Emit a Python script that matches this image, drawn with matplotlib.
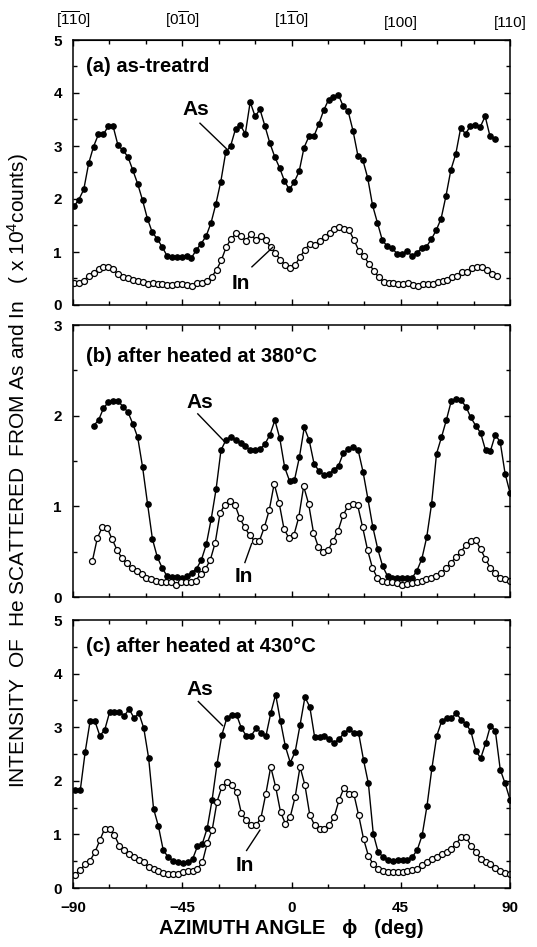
import numpy as np
import matplotlib
matplotlib.use("Agg")
import matplotlib.pyplot as plt
from matplotlib.ticker import MultipleLocator

plt.rcParams['font.family'] = ['Liberation Sans', 'DejaVu Sans']
plt.rcParams['mathtext.fontset'] = 'custom'
plt.rcParams['mathtext.rm'] = 'Liberation Sans'
plt.rcParams['mathtext.it'] = 'Liberation Sans'

# (a) as-treated : scan from about -90 to 84 deg
a_as_range = (-89.6, 83.8)
a_as = [1.86, 1.99, 2.18, 2.67, 2.99, 3.22, 3.22, 3.37, 3.37, 3.01,
        2.92, 2.80, 2.55, 2.29, 1.98, 1.63, 1.37, 1.25, 1.10, 0.93,
        0.91, 0.91, 0.91, 0.93, 0.89, 1.04, 1.16, 1.30, 1.55, 1.91,
        2.33, 2.88, 3.00, 3.32, 3.39, 3.23, 3.83, 3.56, 3.69, 3.38,
        3.06, 2.80, 2.59, 2.34, 2.18, 2.32, 2.52, 2.97, 3.18, 3.18,
        3.41, 3.67, 3.87, 3.93, 3.97, 3.75, 3.66, 3.29, 2.82, 2.74,
        2.40, 1.88, 1.55, 1.22, 1.11, 1.07, 0.97, 0.96, 1.02, 0.93,
        0.98, 1.07, 1.10, 1.24, 1.41, 1.63, 2.06, 2.55, 2.85, 3.34,
        3.23, 3.38, 3.39, 3.36, 3.56, 3.18, 3.14]
a_in_range = (-89.6, 84.5)
a_in = [0.41, 0.41, 0.46, 0.55, 0.61, 0.67, 0.71, 0.71, 0.67, 0.58,
        0.53, 0.50, 0.47, 0.46, 0.44, 0.40, 0.41, 0.40, 0.39, 0.38,
        0.38, 0.40, 0.40, 0.38, 0.36, 0.42, 0.42, 0.46, 0.53, 0.66,
        0.85, 1.10, 1.25, 1.35, 1.30, 1.21, 1.34, 1.22, 1.30, 1.22,
        1.09, 0.98, 0.85, 0.75, 0.69, 0.75, 0.91, 1.04, 1.16, 1.13,
        1.21, 1.29, 1.36, 1.44, 1.47, 1.44, 1.41, 1.22, 1.02, 0.92,
        0.78, 0.65, 0.52, 0.44, 0.42, 0.42, 0.40, 0.40, 0.42, 0.38,
        0.36, 0.40, 0.40, 0.40, 0.44, 0.46, 0.48, 0.52, 0.55, 0.63,
        0.63, 0.69, 0.71, 0.71, 0.66, 0.58, 0.55]

# (b) after heated at 380 C
b_as_range = (-81.5, 90.0)
b_as = [1.89, 1.95, 2.08, 2.15, 2.16, 2.16, 2.10, 2.04, 1.91, 1.76,
        1.43, 1.03, 0.64, 0.44, 0.32, 0.23, 0.22, 0.22, 0.21, 0.23,
        0.27, 0.31, 0.41, 0.58, 0.86, 1.19, 1.62, 1.73, 1.77, 1.73,
        1.70, 1.66, 1.62, 1.62, 1.63, 1.69, 1.79, 1.95, 1.75, 1.43,
        1.28, 1.29, 1.54, 1.87, 1.73, 1.47, 1.39, 1.35, 1.36, 1.40,
        1.45, 1.59, 1.63, 1.65, 1.62, 1.38, 1.08, 0.77, 0.53, 0.34,
        0.23, 0.21, 0.21, 0.21, 0.21, 0.21, 0.29, 0.42, 0.66, 1.03,
        1.58, 1.76, 1.95, 2.16, 2.18, 2.17, 2.10, 1.98, 1.89, 1.81,
        1.62, 1.61, 1.79, 1.71, 1.36, 1.15]
b_in_range = (-82.0, 90.0)
b_in = [0.40, 0.65, 0.77, 0.76, 0.64, 0.52, 0.43, 0.37, 0.32, 0.29,
        0.25, 0.21, 0.20, 0.18, 0.17, 0.17, 0.16, 0.13, 0.16, 0.16,
        0.16, 0.18, 0.25, 0.31, 0.41, 0.60, 0.93, 1.02, 1.06, 1.02,
        0.87, 0.77, 0.68, 0.62, 0.62, 0.77, 0.96, 1.25, 1.04, 0.75,
        0.65, 0.68, 0.88, 1.22, 1.03, 0.71, 0.55, 0.50, 0.52, 0.62,
        0.73, 0.90, 1.00, 1.03, 1.01, 0.77, 0.52, 0.32, 0.21, 0.18,
        0.17, 0.16, 0.15, 0.13, 0.14, 0.15, 0.16, 0.18, 0.20, 0.21,
        0.23, 0.27, 0.32, 0.38, 0.44, 0.50, 0.57, 0.62, 0.63, 0.53,
        0.42, 0.32, 0.27, 0.21, 0.20, 0.18]

# (c) after heated at 430 C
c_as_range = (-89.0, 90.0)
c_as = [1.83, 1.83, 2.54, 3.11, 3.11, 2.84, 2.95, 3.28, 3.29, 3.29,
        3.21, 3.34, 3.17, 3.26, 2.98, 2.42, 1.48, 1.15, 0.70, 0.58,
        0.51, 0.48, 0.47, 0.48, 0.54, 0.78, 0.83, 1.12, 1.65, 2.31,
        2.86, 3.17, 3.23, 3.23, 2.98, 2.84, 2.84, 2.98, 2.90, 2.83,
        3.26, 3.61, 3.11, 2.64, 2.34, 2.54, 3.04, 3.56, 3.38, 2.81,
        2.81, 2.84, 2.78, 2.71, 2.78, 2.89, 2.96, 2.90, 2.89, 2.39,
        1.95, 1.01, 0.67, 0.58, 0.53, 0.51, 0.53, 0.53, 0.53, 0.58,
        0.71, 0.98, 1.53, 2.23, 2.84, 3.11, 3.17, 3.17, 3.26, 3.14,
        3.06, 2.92, 2.56, 2.42, 2.70, 3.03, 2.93, 2.21, 1.95, 1.65]
c_in_range = (-89.0, 90.0)
c_in = [0.25, 0.34, 0.44, 0.51, 0.67, 0.89, 1.11, 1.11, 0.98, 0.79,
        0.70, 0.64, 0.58, 0.53, 0.48, 0.39, 0.36, 0.31, 0.28, 0.26,
        0.26, 0.26, 0.29, 0.31, 0.31, 0.36, 0.48, 0.84, 1.08, 1.61,
        1.89, 1.98, 1.92, 1.79, 1.39, 1.26, 1.17, 1.17, 1.31, 1.76,
        2.26, 1.89, 1.42, 1.20, 1.33, 1.70, 2.26, 1.92, 1.36, 1.17,
        1.11, 1.11, 1.17, 1.33, 1.64, 1.87, 1.76, 1.76, 1.36, 0.92,
        0.60, 0.44, 0.36, 0.31, 0.29, 0.29, 0.29, 0.29, 0.31, 0.34,
        0.36, 0.43, 0.48, 0.54, 0.58, 0.63, 0.67, 0.73, 0.83, 0.95,
        0.95, 0.79, 0.67, 0.54, 0.48, 0.44, 0.38, 0.31, 0.28, 0.26]

titles = ["(a) as-treatrd", "(b) after heated at 380°C", "(c) after heated at 430°C"]
ymax = [5, 3, 5]
top_labels = [r"[$\overline{1}\overline{1}$0]", r"[0$\overline{1}$0]", r"[1$\overline{1}$0]", "[100]", "[110]"]
top_ticks = [-90, -45, 0, 45, 90]
# label positions (x, y) and leader line ends for As / In
as_lab = [(-39.4, 3.68, -37.7, 3.43, -26.6, 2.94),
          (-37.8, 2.15, -38.6, 2.02, -27.8, 1.72),
          (-37.7, 3.70, -38.4, 3.48, -28.4, 3.03)]
in_lab = [(-20.9, 0.40, -16.3, 0.72, -7.7, 1.09),
          (-19.7, 0.23, -19.2, 0.38, -16.4, 0.59),
          (-19.2, 0.42, -18.5, 0.70, -13.0, 1.08)]

fig = plt.figure(figsize=(5.37, 9.47), dpi=100)
W, H = 537.0, 947.0
boxes = [(40, 305), (325, 597), (620, 888)]
panels = [((a_as_range, a_as), (a_in_range, a_in)),
          ((b_as_range, b_as), (b_in_range, b_in)),
          ((c_as_range, c_as), (c_in_range, c_in))]

for i, (top, bot) in enumerate(boxes):
    ax = fig.add_axes([73 / W, 1 - bot / H, 437 / W, (bot - top) / H])
    (ras, yas), (rin, yin) = panels[i]
    x_as = np.linspace(ras[0], ras[1], len(yas))
    x_in = np.linspace(rin[0], rin[1], len(yin))
    ax.plot(x_as, yas, '-o', color='black', lw=1.0, ms=3.8, mfc='black', mec='black')
    ax.plot(x_in, yin, '-o', color='black', lw=1.0, ms=4.3, mfc='white', mec='black', mew=0.9)

    ax.set_xlim(-90, 90)
    ax.set_ylim(0, ymax[i])
    ax.xaxis.set_major_locator(MultipleLocator(45))
    ax.xaxis.set_minor_locator(MultipleLocator(15))
    ax.yaxis.set_major_locator(MultipleLocator(1))
    ax.yaxis.set_minor_locator(MultipleLocator(0.5))
    ax.tick_params(which='both', direction='in', top=True, right=True, width=1.0)
    ax.tick_params(which='major', length=4, labelsize=11)
    ax.tick_params(axis='y', which='major', pad=8)
    ax.tick_params(axis='x', which='major', pad=9)
    ax.tick_params(which='minor', length=3)
    for lab in ax.get_yticklabels():
        lab.set_fontweight('bold')
    for s in ax.spines.values():
        s.set_linewidth(1.1)
    if i < 2:
        ax.set_xticklabels([])
    else:
        for lab in ax.get_xticklabels():
            lab.set_fontweight('bold')
        ax.set_xlabel("AZIMUTH ANGLE   ϕ   (deg)", fontsize=14.5, fontweight='bold', labelpad=3)

    ax.text(0.03, 0.9 if i != 1 else 0.885, titles[i], transform=ax.transAxes,
            fontsize=14.5, fontweight='bold', va='center', ha='left')

    tx, ty, x0, y0, x1, y1 = as_lab[i]
    ax.text(tx, ty, "As", fontsize=15, fontweight='bold', ha='center', va='center')
    ax.plot([x0, x1], [y0, y1], color='black', lw=1.0)
    tx, ty, x0, y0, x1, y1 = in_lab[i]
    ax.text(tx, ty, "In", fontsize=15, fontweight='bold', ha='center', va='center')
    ax.plot([x0, x1], [y0, y1], color='black', lw=1.0)

    if i == 0:
        sec = ax.secondary_xaxis('top')
        sec.set_xticks(top_ticks)
        sec.set_xticklabels(top_labels, fontsize=11)
        sec.tick_params(length=0, pad=7)

fig.text(0.034, 0.503, "INTENSITY  OF  He SCATTERED  FROM As and In   ( x 10$^{4}$counts)",
         rotation=90, ha='center', va='center', fontsize=15)

fig.savefig("out.png", dpi=100)
